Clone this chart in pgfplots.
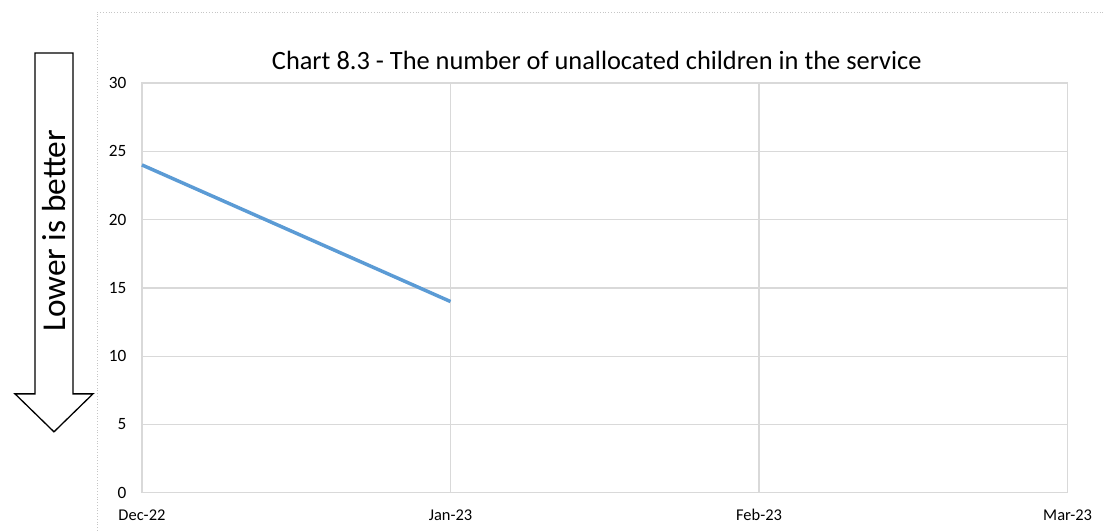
\documentclass[border=0pt]{standalone}
\usepackage{pgfplots}
\pgfplotsset{compat=1.18}
\usepackage{fontspec}
\setmainfont{Carlito}
\definecolor{gridc}{HTML}{D9D9D9}
\definecolor{linec}{HTML}{5B9BD5}
\begin{document}
\begin{tikzpicture}[x=1bp,y=1bp]
\path (0,0) rectangle (1103,531);
\draw[gray!45, dotted, line width=0.8bp] (97,0) -- (97,519) -- (1103,519);
% arrow
\draw[black, line width=1.3bp] (35,478) -- (73,478) -- (73,137) -- (93,137) -- (54,99) -- (15,137) -- (35,137) -- cycle;
\node[rotate=90, font=\fontsize{33.5}{36}\selectfont, inner sep=0] at (54,300) {Lower is better};
\node[font=\fontsize{26.5}{30}\selectfont, inner sep=0] at (597,471) {Chart 8.3 - The number of unallocated children in the service};
\begin{axis}[
  at={(142bp,38bp)}, anchor=south west,
  scale only axis, width=926bp, height=410bp,
  xmin=0, xmax=3, ymin=0, ymax=30,
  xtick={0,1,2,3}, xticklabels={Dec-22,Jan-23,Feb-23,Mar-23},
  ytick={0,5,10,15,20,25,30},
  grid=major, major grid style={gridc, line width=1.3bp},
  axis line style={gridc, line width=1.3bp},
  tick style={draw=none},
  x tick label style={font=\fontsize{16.5}{18}\selectfont, anchor=center, yshift=-22bp},
  y tick label style={font=\fontsize{17.3}{19}\selectfont, anchor=east, xshift=-12bp},
  /pgf/number format/assume math mode=true,
  clip=false,
]
\addplot[linec, line width=3.5bp] coordinates {(0,24) (1,14)};
\end{axis}
\end{tikzpicture}
\end{document}
